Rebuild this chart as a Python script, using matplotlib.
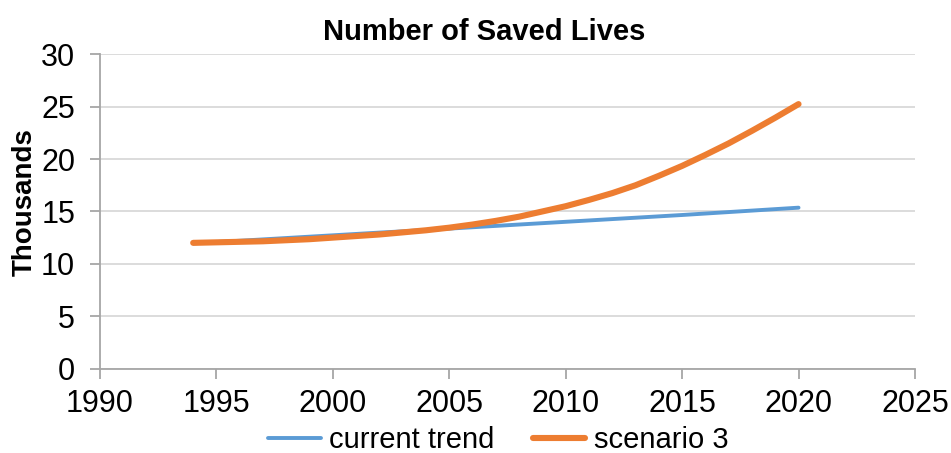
import matplotlib
matplotlib.use("Agg")
import matplotlib.pyplot as plt

plt.rcParams['font.family'] = ['Liberation Sans', 'DejaVu Sans']

years = list(range(1994, 2021))
current_trend = [11.95, 12.08, 12.20, 12.33, 12.46, 12.59, 12.72, 12.85, 12.98, 13.10,
                 13.23, 13.36, 13.49, 13.62, 13.75, 13.88, 14.01, 14.14, 14.27, 14.40,
                 14.53, 14.66, 14.80, 14.94, 15.08, 15.22, 15.36]
scenario_3 = [12.00, 12.05, 12.10, 12.15, 12.25, 12.35, 12.50, 12.65, 12.80, 13.00,
              13.20, 13.45, 13.75, 14.10, 14.50, 15.00, 15.50, 16.10, 16.75, 17.50,
              18.40, 19.35, 20.40, 21.50, 22.70, 23.95, 25.25]
x_ticks = [1990, 1995, 2000, 2005, 2010, 2015, 2020, 2025]
y_ticks = [0, 5, 10, 15, 20, 25, 30]

fig = plt.figure(figsize=(9.51, 4.53), dpi=100)
ax = fig.add_axes([0.1052, 0.1865, 0.8569, 0.6935])

ax.plot(years, current_trend, color='#5B9BD5', lw=2.8, solid_capstyle='round',
        label='current trend', zorder=3)
ax.plot(years, scenario_3, color='#ED7D31', lw=4.4, solid_capstyle='round',
        label='scenario 3', zorder=4)

ax.set_xlim(1990, 2025)
ax.set_ylim(0, 30)
ax.set_xticks(x_ticks)
ax.set_yticks(y_ticks)
ax.grid(axis='y', color='#D9D9D9', lw=1.3)
ax.set_axisbelow(True)

for s in ('top', 'right'):
    ax.spines[s].set_visible(False)
for s in ('left', 'bottom'):
    ax.spines[s].set_color('#A6A6A6')
    ax.spines[s].set_linewidth(1.3)

ax.tick_params(axis='both', colors='#A6A6A6', labelcolor='black', labelsize=22,
               length=7, width=1.3)
ax.tick_params(axis='x', pad=8)
ax.tick_params(axis='y', pad=11)

ax.set_title('Number of Saved Lives', fontsize=21, fontweight='bold', pad=10, x=0.471)
ax.set_ylabel('Thousands', fontsize=20, fontweight='bold')
ax.yaxis.set_label_coords(-0.077, 0.53)

fig.legend(loc='center', bbox_to_anchor=(0.524, 0.028), ncol=2, frameon=False,
           fontsize=21, handlelength=1.8, handletextpad=0.3, columnspacing=1.3,
           borderaxespad=0)

fig.savefig('out.png', dpi=100)
